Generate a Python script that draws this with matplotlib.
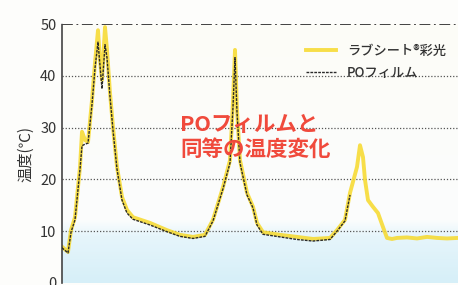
#!/usr/bin/env python3

import numpy as np
import matplotlib
matplotlib.use("Agg")
import matplotlib.pyplot as plt
from matplotlib.colors import LinearSegmentedColormap

plt.rcParams["font.family"] = ["Noto Sans CJK JP", "DejaVu Sans"]

# elapsed time (arbitrary units) and temperature readings
t_love = [0, 6, 9, 13, 18, 20, 23, 26, 30, 33, 36, 38, 40, 43, 45, 48, 51, 55, 60,
          65, 71, 88, 105, 118, 131, 143, 151, 161, 168, 171, 173, 175, 178, 185,
          191, 195, 201, 218, 235, 251, 268, 275, 283, 288, 295, 298, 301, 303,
          306, 311, 316, 321, 325, 330, 335, 345, 355, 365, 375, 385, 396]
temp_love = [7.0, 6.0, 10.2, 12.7, 22.4, 29.2, 27.6, 27.2, 35.3, 42.5, 48.8, 43.0,
             39.2, 49.4, 45.0, 36.7, 30.1, 22.4, 16.6, 14.1, 12.7, 11.6, 10.2, 9.3,
             8.9, 9.3, 12.2, 18.5, 23.7, 35.0, 45.0, 33.4, 23.7, 17.4, 14.7, 11.6,
             9.8, 9.3, 8.9, 8.5, 8.7, 10.2, 12.2, 17.4, 22.4, 26.6, 24.3, 19.9,
             16.0, 14.7, 13.5, 10.8, 8.7, 8.5, 8.7, 8.8, 8.6, 8.9, 8.7, 8.6, 8.7]

t_po = [0, 6, 9, 13, 18, 20, 23, 26, 30, 33, 36, 38, 40, 43, 45, 48, 51, 55, 60,
        65, 71, 88, 105, 118, 131, 143, 151, 161, 168, 171, 173, 175, 178, 185,
        191, 195, 201, 218, 235, 251, 268, 275, 283, 288]
temp_po = [6.8, 5.8, 9.8, 12.2, 22.0, 26.5, 26.8, 27.0, 34.5, 41.5, 46.5, 42.0,
           37.5, 46.0, 43.5, 36.0, 29.5, 22.0, 16.0, 13.5, 12.3, 11.2, 9.9, 9.0,
           8.6, 9.0, 12.0, 18.2, 23.2, 34.0, 43.5, 33.0, 23.2, 17.0, 14.5, 11.2,
           9.4, 8.9, 8.4, 8.1, 8.4, 10.0, 12.0, 17.0]

fig = plt.figure(figsize=(4.58, 2.85), dpi=100)
fig.patch.set_facecolor("#fdfdfb")
ax = fig.add_axes([62 / 458, 2 / 285, 1 - 62 / 458, 259 / 285])

# background: white above, light blue towards the bottom
grad = np.linspace(0, 1, 256).reshape(-1, 1)
cmap = LinearSegmentedColormap.from_list(
    "bg", [(0, "#d6eff8"), (0.18, "#e6f5fb"), (0.24, "#fbfdfd"), (1, "#fdfcf7")])
ax.imshow(grad, aspect="auto", cmap=cmap, origin="lower",
          extent=[0, 396, 0, 50], zorder=0)

for yv in [10, 20, 30, 40]:
    ax.axhline(yv, color="#555555", lw=0.9, ls=(0, (1, 1.5)), zorder=1)
ax.axhline(50, color="#333333", lw=1.3, ls=(0, (6, 2, 1, 2)), zorder=1)

ax.plot(t_love, temp_love, color="#f7d92a", lw=2.8, alpha=0.85,
        solid_joinstyle="round", label="ラブシート®彩光", zorder=2)
ax.plot(t_po, temp_po, color="#2a2a2a", lw=1.0, ls=(0, (2, 0.8)),
        label="POフィルム", zorder=3)

ax.set_xlim(0, 396)
ax.set_ylim(0, 50)
ax.set_yticks([0, 10, 20, 30, 40, 50])
ax.set_xticks([])
ax.tick_params(axis="y", length=0, labelsize=10.5, labelcolor="#333333", pad=4)
for s in ["top", "right", "bottom"]:
    ax.spines[s].set_visible(False)
ax.spines["left"].set_linestyle((0, (2, 1)))
ax.spines["left"].set_color("#444444")
ax.spines["left"].set_linewidth(1.2)
ax.set_ylabel("温度(℃)", fontsize=11, color="#333333", labelpad=4)

ax.text(118, 32.6, "POフィルムと\n同等の温度変化", color="#f04a3c",
        fontsize=15.5, fontweight="bold", va="top", ha="left",
        linespacing=1.22, zorder=4)

leg = ax.legend(loc="upper right", bbox_to_anchor=(1.0, 0.97), frameon=False,
                prop={"size": 9.5, "weight": "medium"}, handlelength=2.3,
                labelspacing=0.6, handletextpad=0.8)
for txt in leg.get_texts():
    txt.set_color("#333333")

fig.savefig("out.png", dpi=100, facecolor=fig.get_facecolor())
